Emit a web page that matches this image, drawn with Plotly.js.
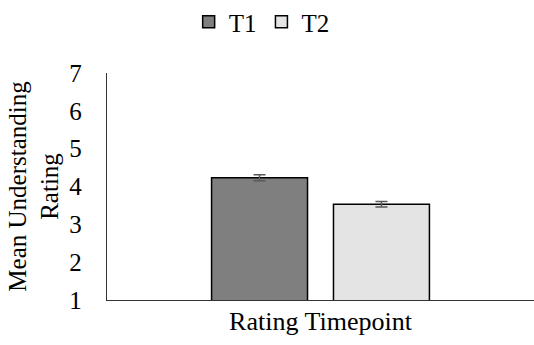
<!DOCTYPE html>
<html>
<head>
<meta charset="utf-8">
<script src="https://cdn.plot.ly/plotly-3.0.1.min.js"></script>
<style>
html,body{margin:0;padding:0;background:#fff;}
#chart{width:534px;height:345px;}
#chart text{font-family:"Liberation Serif","Times New Roman",serif !important;}
</style>
</head>
<body>
<div id="chart"></div>
<script>
const categories = ["Rating Timepoint"];
const seriesNames = ["T1", "T2"];
const t1Values = [4.23];
const t2Values = [3.53];
const t1Errors = [0.08];
const t2Errors = [0.075];
const yTickVals = [1, 2, 3, 4, 5, 6, 7];

const FONT = "Liberation Serif";
const FS = 25;

const traces = [
  {
    type: "bar", name: seriesNames[0], x: categories, y: t1Values,
    marker: {color: "#7f7f7f", line: {color: "#000000", width: 1.5}},
    error_y: {type: "data", array: t1Errors, visible: true, color: "#595959", thickness: 1.5, width: 6}
  },
  {
    type: "bar", name: seriesNames[1], x: categories, y: t2Values,
    marker: {color: "#e4e4e4", line: {color: "#000000", width: 1.5}},
    error_y: {type: "data", array: t2Errors, visible: true, color: "#595959", thickness: 1.5, width: 6}
  }
];

const layout = {
  width: 534, height: 345,
  paper_bgcolor: "#ffffff", plot_bgcolor: "#ffffff",
  margin: {l: 107, r: 0, t: 73, b: 45, pad: 0},
  font: {family: FONT, size: FS, color: "#000000"},
  barmode: "group", bargap: 0.429, bargroupgap: 0.213,
  showlegend: true,
  legend: {
    orientation: "h", xref: "container", yref: "container",
    x: 0.49, xanchor: "center", y: 0.936, yanchor: "middle",
    font: {family: FONT, size: FS, color: "#000000"},
    itemwidth: 30, tracegroupgap: 0
  },
  xaxis: {
    type: "category", showticklabels: false, ticks: "",
    showline: true, linecolor: "#333333", linewidth: 1.2,
    showgrid: false, zeroline: false,
    title: {text: "Rating Timepoint", font: {family: FONT, size: 26, color: "#000000"}, standoff: 11}
  },
  yaxis: {
    range: [1, 7], tickvals: yTickVals, ticks: "",
    ticklabelstandoff: 19,
    showline: true, linecolor: "#333333", linewidth: 1.2,
    showgrid: false, zeroline: false,
    tickfont: {family: FONT, size: FS, color: "#000000"},
    title: {text: "Mean Understanding<br>Rating", font: {family: FONT, size: FS, color: "#000000"}, standoff: 3}
  }
};

Plotly.newPlot("chart", traces, layout, {displayModeBar: false, staticPlot: true});
</script>
</body>
</html>
